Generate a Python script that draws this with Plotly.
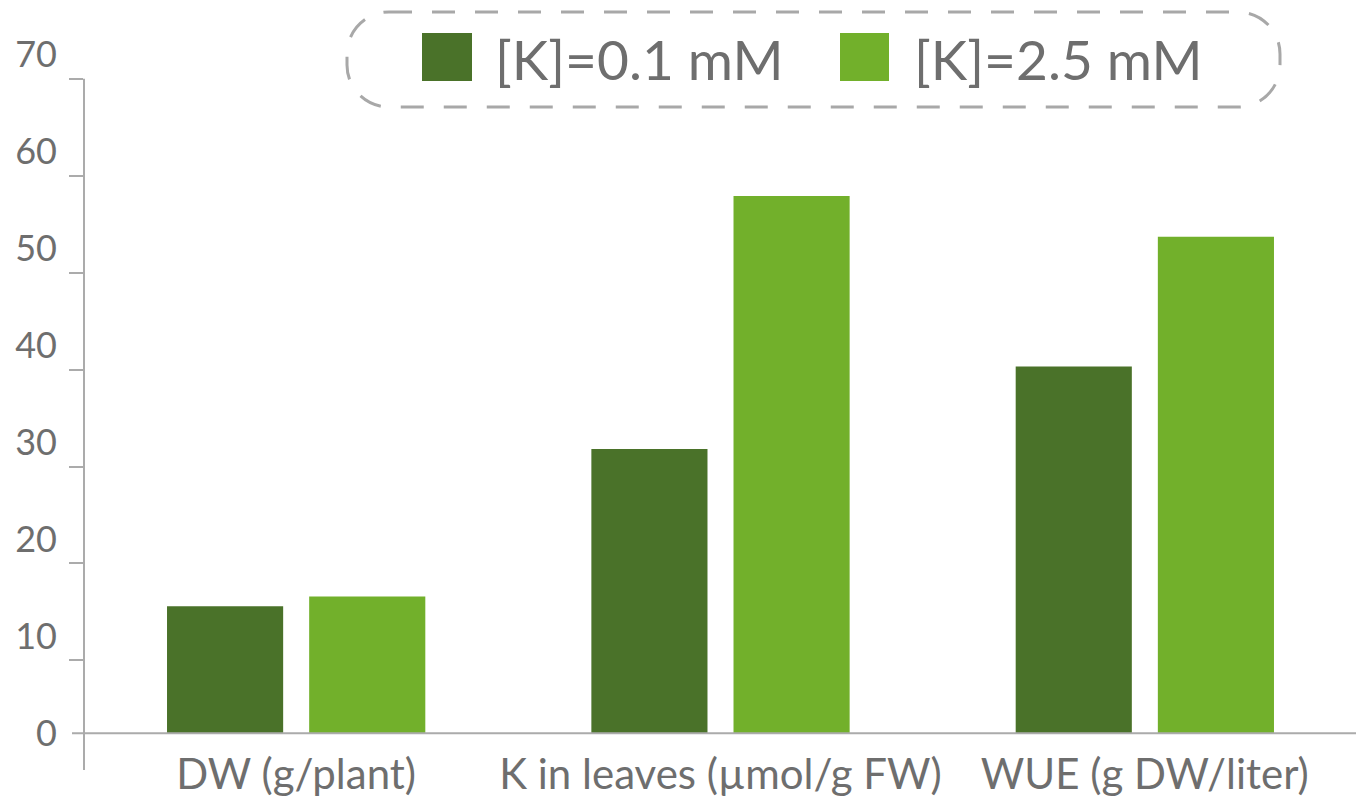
import plotly.graph_objects as go

# ---------------- data ----------------
categories = ["DW (g/plant)", "K in leaves (µmol/g FW)", "WUE (g DW/liter)"]
series_names = ["[K]=0.1 mM", "[K]=2.5 mM"]
low_k = [13.1, 29.3, 37.8]
high_k = [14.1, 55.4, 51.2]
y_tick_vals = [0, 10, 20, 30, 40, 50, 60, 70]
y_tick_text = ["0", "10", "20", "30", "40", "50", "60", "70"]
y_mark_vals = [7.5, 17.5, 27.5, 37.5, 47.5, 57.5, 67.5]

# ---------------- style ----------------
DARK = "#4a7229"
LIGHT = "#72b02b"
TEXT = "#6e6e6e"
AXIS = "#ababab"
FONT = "Lato"

OFF = 8  # page body margin
WIN_W, WIN_H = 1364, 799
FIG_W, FIG_H = WIN_W - OFF, WIN_H - OFF
# target plot area in window pixels: x 84..1357, y 35..770
M_L, M_R, M_T, M_B = 84 - OFF, WIN_W - 1357, 35 - OFF, WIN_H - 770
PW = FIG_W - M_L - M_R
PH = FIG_H - M_T - M_B
Y0, Y1 = -3.8, 72.0


def px(x):
    return (x - OFF - M_L) / PW


def py(y):
    return (FIG_H - M_B - (y - OFF)) / PH


def vy(v):
    return (v - Y0) / (Y1 - Y0)


fig = go.Figure()
fig.add_trace(go.Bar(x=categories, y=low_k, name=series_names[0],
                     marker=dict(color=DARK, line=dict(width=0)), yaxis="y"))
fig.add_trace(go.Bar(x=categories, y=high_k, name=series_names[1],
                     marker=dict(color=LIGHT, line=dict(width=0)), yaxis="y"))

zero_pos = vy(0)

fig.update_layout(
    width=FIG_W, height=FIG_H,
    margin=dict(l=M_L, r=M_R, t=M_T, b=M_B, autoexpand=False),
    paper_bgcolor="white", plot_bgcolor="white",
    showlegend=False,
    barmode="group", bargap=0.33, bargroupgap=0.183,
    font=dict(family=FONT, color=TEXT),
    xaxis=dict(
        type="category", range=[-0.5, 2.5],
        anchor="free", position=zero_pos, automargin=False,
        showline=False, showgrid=False, zeroline=False, ticks="",
        tickfont=dict(size=42, color=TEXT, family=FONT),
        ticklabelstandoff=13,
    ),
    yaxis=dict(
        range=[Y0, Y1], showgrid=False, zeroline=False, showline=False,
        automargin=False,
        ticks="", tickvals=y_tick_vals, ticktext=y_tick_text,
        tickfont=dict(size=36, color=TEXT, family=FONT),
        ticklabelstandoff=26,
    ),
    yaxis2=dict(
        range=[Y0, Y1], overlaying="y", side="left", anchor="x",
        automargin=False,
        showgrid=False, zeroline=False, showline=False,
        tickvals=y_mark_vals, ticks="outside", ticklen=14, tickwidth=2,
        tickcolor=AXIS, showticklabels=False,
    ),
)

# invisible trace to activate yaxis2
fig.add_trace(go.Scatter(x=[categories[0]], y=[0], yaxis="y2", mode="markers",
                         marker=dict(opacity=0), showlegend=False, hoverinfo="skip"))

shapes = []
# y axis line
shapes.append(dict(type="line", xref="paper", yref="paper",
                   x0=0, x1=0, y0=0, y1=vy(y_mark_vals[-1]),
                   line=dict(color=AXIS, width=2)))
# x axis line at zero with small left extension and right end tick
shapes.append(dict(type="path", xref="paper", yref="paper",
                   path=f"M{px(72)},{zero_pos} L1,{zero_pos} L1,{py(751)}",
                   line=dict(color=AXIS, width=2)))

# rounded dashed legend box
bx0, bx1, by0, by1, r = 347, 1280, 12, 107, 42
k = 0.5523 * r
p = (
    f"M{px(bx0 + r)},{py(by0)} L{px(bx1 - r)},{py(by0)} "
    f"C{px(bx1 - r + k)},{py(by0)} {px(bx1)},{py(by0 + r - k)} {px(bx1)},{py(by0 + r)} "
    f"L{px(bx1)},{py(by1 - r)} "
    f"C{px(bx1)},{py(by1 - r + k)} {px(bx1 - r + k)},{py(by1)} {px(bx1 - r)},{py(by1)} "
    f"L{px(bx0 + r)},{py(by1)} "
    f"C{px(bx0 + r - k)},{py(by1)} {px(bx0)},{py(by1 - r + k)} {px(bx0)},{py(by1 - r)} "
    f"L{px(bx0)},{py(by0 + r)} "
    f"C{px(bx0)},{py(by0 + r - k)} {px(bx0 + r - k)},{py(by0)} {px(bx0 + r)},{py(by0)} Z"
)
shapes.append(dict(type="path", xref="paper", yref="paper", path=p,
                   line=dict(color="#a8a8a8", width=3, dash="23px,20px")))

# legend swatches
swatches = [(422, 472, DARK), (840, 889, LIGHT)]
for x0, x1, c in swatches:
    shapes.append(dict(type="rect", xref="paper", yref="paper",
                       x0=px(x0), x1=px(x1), y0=py(81), y1=py(33),
                       fillcolor=c, line=dict(width=0)))

annotations = []
for (x0, x1, c), name, tx in zip(swatches, series_names, [493, 912]):
    annotations.append(dict(xref="paper", yref="paper", x=px(tx), y=py(59),
                            xanchor="left", yanchor="middle", showarrow=False,
                            text=name, font=dict(size=55, color=TEXT, family=FONT)))

fig.update_layout(shapes=shapes, annotations=annotations)

fig.write_html("out.html")
